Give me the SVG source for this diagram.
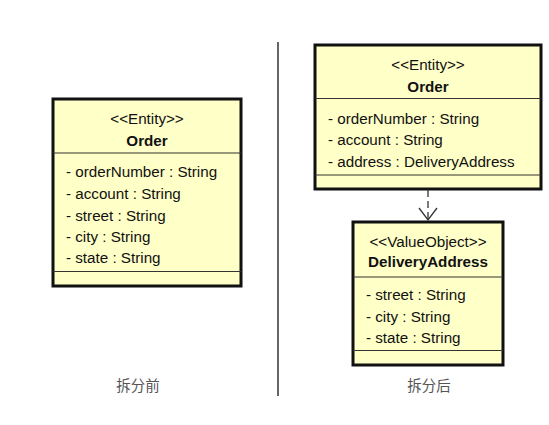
<svg xmlns="http://www.w3.org/2000/svg" width="549" height="425" viewBox="0 0 549 425">
<style>
.box{fill:#ffffc8;stroke:#111;stroke-width:3}
.sep{stroke:#333;stroke-width:1.2}
.t{font-family:"Liberation Sans",Arial,sans-serif;font-size:15.2px;fill:#111}
.c{text-anchor:middle}
.b{font-weight:bold}
.lbl{font-family:"Noto Sans CJK SC",sans-serif;font-size:14.5px;fill:#555;text-anchor:middle}
.conn{fill:none;stroke:#333;stroke-width:1.3}
</style>
<rect width="549" height="425" fill="#fff"/>
<g id="before-order">
<rect class="box" x="53" y="99" width="188" height="187"/>
<line class="sep" x1="53" y1="153" x2="241" y2="153"/>
<line class="sep" x1="53" y1="271.5" x2="241" y2="271.5"/>
<text class="t c" x="147" y="124">&lt;&lt;Entity&gt;&gt;</text>
<text class="t c b" x="147" y="146">Order</text>
<text class="t" x="66" y="177">- orderNumber : String</text>
<text class="t" x="66" y="199">- account : String</text>
<text class="t" x="66" y="220.5">- street : String</text>
<text class="t" x="66" y="242">- city : String</text>
<text class="t" x="66" y="263">- state : String</text>
</g>
<g id="after-order">
<rect class="box" x="315" y="45" width="226" height="144"/>
<line class="sep" x1="315" y1="98.5" x2="541" y2="98.5"/>
<line class="sep" x1="315" y1="175" x2="541" y2="175"/>
<text class="t c" x="428" y="69.5">&lt;&lt;Entity&gt;&gt;</text>
<text class="t c b" x="428" y="92">Order</text>
<text class="t" x="328" y="123.5">- orderNumber : String</text>
<text class="t" x="328" y="145">- account : String</text>
<text class="t" x="328" y="167">- address : DeliveryAddress</text>
</g>
<g id="delivery-address">
<rect class="box" x="353" y="222" width="150" height="143"/>
<line class="sep" x1="353" y1="277" x2="503" y2="277"/>
<line class="sep" x1="353" y1="350.5" x2="503" y2="350.5"/>
<text class="t c" x="428" y="247">&lt;&lt;ValueObject&gt;&gt;</text>
<text class="t c b" x="428" y="267">DeliveryAddress</text>
<text class="t" x="366" y="300">- street : String</text>
<text class="t" x="366" y="322">- city : String</text>
<text class="t" x="366" y="342.5">- state : String</text>
</g>
<g id="connectors">
<line class="conn" x1="428" y1="190" x2="428" y2="219" stroke-dasharray="7,4"/>
<polyline class="conn" points="419,208 428,220 437,208"/>
<line x1="278" y1="42" x2="278" y2="396" stroke="#666" stroke-width="2"/>
</g>
<g id="labels">
<text class="lbl" x="138" y="391">拆分前</text>
<text class="lbl" x="429" y="391">拆分后</text>
</g>
</svg>
